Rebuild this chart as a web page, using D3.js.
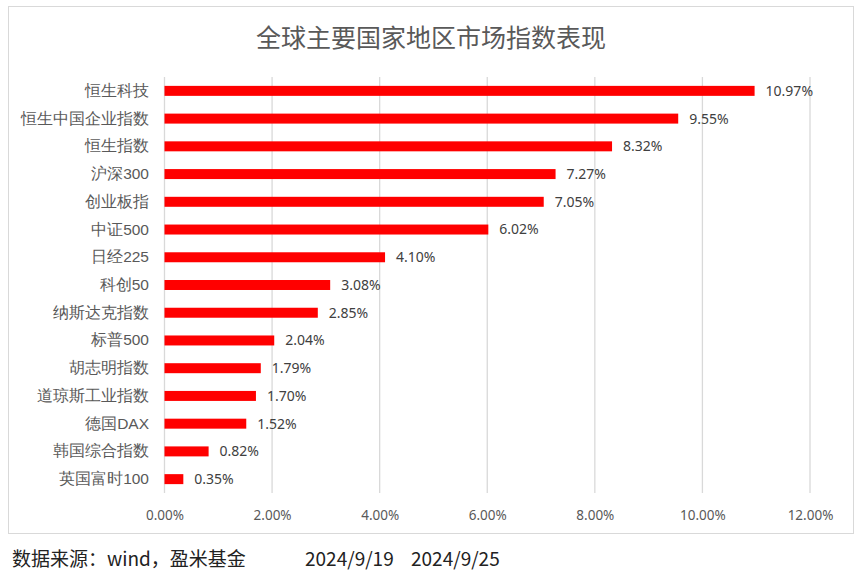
<!DOCTYPE html>
<html><head><meta charset="utf-8">
<script src="https://cdn.jsdelivr.net/npm/d3@7"></script>
<style>body{margin:0;background:#fff;}svg{display:block;font-family:"Microsoft YaHei","Noto Sans CJK SC",sans-serif;}</style>
</head><body><svg id="c" width="865" height="576"></svg>
<script>
const categories = ["恒生科技","恒生中国企业指数","恒生指数","沪深300","创业板指","中证500","日经225","科创50","纳斯达克指数","标普500","胡志明指数","道琼斯工业指数","德国DAX","韩国综合指数","英国富时100"];
const values = [10.97,9.55,8.32,7.27,7.05,6.02,4.10,3.08,2.85,2.04,1.79,1.70,1.52,0.82,0.35];
const ticks = [0,2,4,6,8,10,12];
const title = "全球主要国家地区市场指数表现";
const footer = "数据来源：wind，盈米基金";
const dates = ["2024/9/19","2024/9/25"];

const svg = d3.select("#c");
svg.append("rect").attr("x",8.5).attr("y",6.5).attr("width",845).attr("height",527).attr("fill","#fff").attr("stroke","#d9d9d9").attr("stroke-width",1);
svg.append("text").attr("x",431).attr("y",47).attr("text-anchor","middle").attr("font-size",25).attr("fill","#595959").text(title);

const x = d3.scaleLinear().domain([0,12]).range([164.5,810]);
const y = d3.scaleBand().domain(categories).range([77,493]).paddingInner(0.64).paddingOuter(0.32);

svg.append("g").selectAll("line").data(ticks).join("line")
  .attr("x1",d=>x(d)).attr("x2",d=>x(d)).attr("y1",77).attr("y2",493)
  .attr("stroke","#d9d9d9").attr("stroke-width",1.3);

const xAxis = d3.axisBottom(x).tickValues(ticks).tickFormat(d=>d.toFixed(2)+"%").tickSize(0).tickPadding(0);
const gx = svg.append("g").attr("transform","translate(0,520)").call(xAxis);
gx.select(".domain").remove();
gx.selectAll("text").attr("font-size",13.5).attr("fill","#595959").attr("dy",0).attr("font-family","'Noto Sans','Open Sans',sans-serif");

const yAxis = d3.axisLeft(y).tickSize(0).tickPadding(0);
const gy = svg.append("g").attr("transform","translate(149,0)").call(yAxis);
gy.select(".domain").remove();
gy.selectAll("text").attr("font-size",15.5).attr("fill","#595959");

svg.append("g").selectAll("rect").data(values).join("rect")
  .attr("x",x(0)).attr("y",(d,i)=>y(categories[i])).attr("height",y.bandwidth())
  .attr("width",d=>x(d)-x(0)).attr("fill","#ff0000");

svg.append("g").selectAll("text").data(values).join("text")
  .attr("x",d=>x(d)+11).attr("y",(d,i)=>y(categories[i])+y.bandwidth()/2).attr("dy","0.35em")
  .attr("font-size",14).attr("fill","#404040").attr("font-family","'Noto Sans','Open Sans',sans-serif")
  .text(d=>d.toFixed(2)+"%");

svg.append("text").attr("x",12).attr("y",566).attr("font-size",19).attr("fill","#222").text(footer);
svg.append("text").attr("x",305).attr("y",566).attr("font-size",19).attr("fill","#222").text(dates[0]);
svg.append("text").attr("x",411).attr("y",566).attr("font-size",19).attr("fill","#222").text(dates[1]);
</script></body></html>
